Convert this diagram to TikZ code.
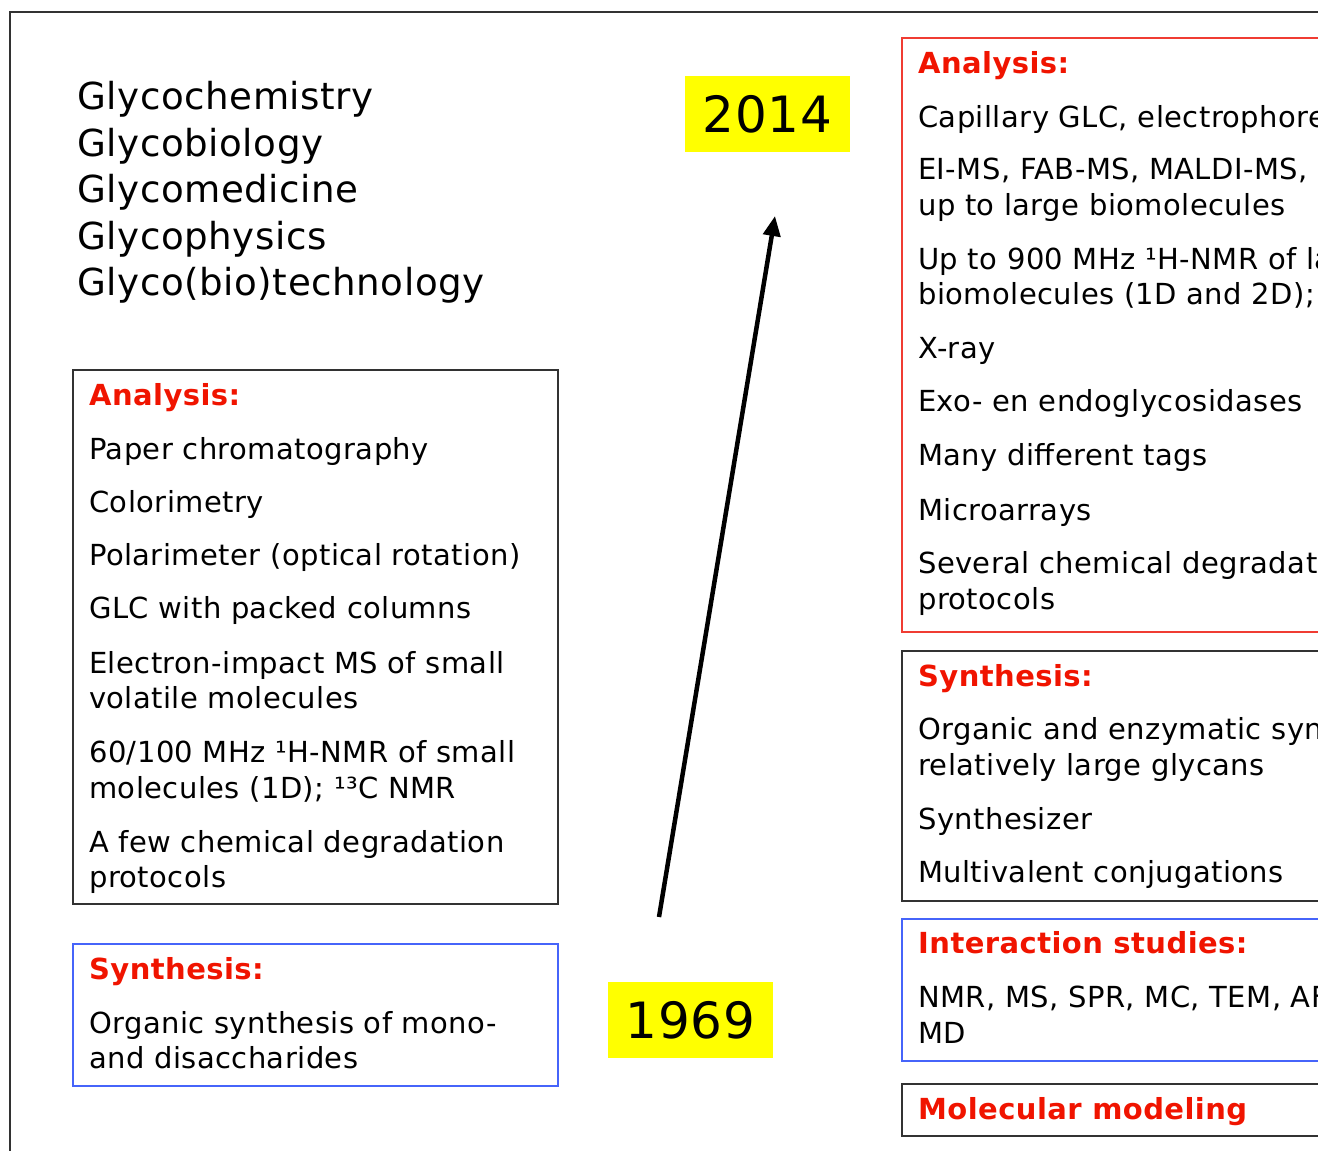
\documentclass[tikz,border=0pt]{standalone}
\usepackage{fontspec}
\setmainfont[LetterSpace=1.5]{DejaVu Sans}
\usetikzlibrary{arrows.meta}
\definecolor{hdred}{RGB}{240,20,0}
\definecolor{frblue}{RGB}{70,100,250}
\definecolor{frred}{RGB}{240,60,50}
\definecolor{frgray}{RGB}{50,50,50}
\definecolor{yrfill}{RGB}{255,255,0}
\begin{document}
\begin{tikzpicture}[x=1pt, y=-1pt, >={Triangle[length=20pt,width=17pt]},
  txt/.style={anchor=base west, inner sep=0pt, font=\fontsize{29}{35}\selectfont},
  hdr/.style={txt, font=\fontsize{29}{35}\selectfont\bfseries, text=hdred},
  big/.style={anchor=base west, inner sep=0pt, font=\fontsize{37.2}{46}\selectfont},
  panel/.style={draw, line width=1.5pt, anchor=north west, inner sep=0pt},
  year/.style={fill=yrfill, minimum width=165pt, minimum height=76pt, inner sep=0pt, font=\fontsize{50}{60}\selectfont}]
    \useasboundingbox (0,0) rectangle (1318,1151);
    \clip (0,0) rectangle (1318,1151);

    % outer frame
    \draw[frgray, line width=2.5pt] (10,12) rectangle (1400,1200);

    % fields
    \node[big] (fchem) at (77,109) {Glycochemistry};
    \node[big] (fbio)  at (77,156) {Glycobiology};
    \node[big] (fmed)  at (77,202) {Glycomedicine};
    \node[big] (fphys) at (77,249) {Glycophysics};
    \node[big] (ftech) at (77,295) {Glyco(bio)technology};

    % years and arrow
    \node[year] (y2014) at (767.5,114) {2014};
    \node[year] (y1969) at (690.5,1020) {1969};
    \coordinate (tail) at (659,917);
    \coordinate (tip) at (775,216);
    \draw[->, line width=4.5pt] (tail) -- (tip);

    % 1969: analysis
    \node[panel, draw=frgray, minimum width=485pt, minimum height=534pt] (oldan) at (72,369) {};
    \node[hdr] (oldanhd) at (89,405) {Analysis:};
    \node[txt] (oldan1) at (89,459) {Paper chromatography};
    \node[txt] (oldan2) at (89,512) {Colorimetry};
    \node[txt] (oldan3) at (89,565) {Polarimeter (optical rotation)};
    \node[txt] (oldan4) at (89,618) {GLC with packed columns};
    \node[txt] (oldan5) at (89,673) {Electron-impact MS of small};
    \node[txt] (oldan5b) at (89,708) {volatile molecules};
    \node[txt] (oldan6) at (89,762) {60/100 MHz ¹H-NMR of small};
    \node[txt] (oldan6b) at (89,798) {molecules (1D); ¹³C NMR};
    \node[txt] (oldan7) at (89,852) {A few chemical degradation};
    \node[txt] (oldan7b) at (89,887) {protocols};

    % 1969: synthesis
    \node[panel, draw=frblue, minimum width=485pt, minimum height=142pt] (oldsy) at (72,943) {};
    \node[hdr] (oldsyhd) at (89,979) {Synthesis:};
    \node[txt] (oldsy1) at (89,1033) {Organic synthesis of mono-};
    \node[txt] (oldsy1b) at (89,1068) {and disaccharides};

    % 2014: analysis
    \node[panel, draw=frred, minimum width=500pt, minimum height=594pt] (newan) at (901,37) {};
    \node[hdr] (newanhd) at (918,73) {Analysis:};
    \node[txt] (newan1) at (918,127) {Capillary GLC, electrophoresis};
    \node[txt] (newan2) at (918,179) {EI-MS, FAB-MS, MALDI-MS,};
    \node[txt] (newan2b) at (918,215) {up to large biomolecules};
    \node[txt] (newan3) at (918,269) {Up to 900 MHz ¹H-NMR of large};
    \node[txt] (newan3b) at (918,304) {biomolecules (1D and 2D);};
    \node[txt] (newan4) at (918,358) {X-ray};
    \node[txt] (newan5) at (918,411) {Exo- en endoglycosidases};
    \node[txt] (newan6) at (918,465) {Many different tags};
    \node[txt] (newan7) at (918,520) {Microarrays};
    \node[txt] (newan8) at (918,573) {Several chemical degradation};
    \node[txt] (newan8b) at (918,609) {protocols};

    % 2014: synthesis
    \node[panel, draw=frgray, minimum width=500pt, minimum height=250pt] (newsy) at (901,650) {};
    \node[hdr] (newsyhd) at (918,686) {Synthesis:};
    \node[txt] (newsy1) at (918,739) {Organic and enzymatic synthesis of};
    \node[txt] (newsy1b) at (918,775) {relatively large glycans};
    \node[txt] (newsy2) at (918,829) {Synthesizer};
    \node[txt] (newsy3) at (918,882) {Multivalent conjugations};

    % 2014: interaction
    \node[panel, draw=frblue, minimum width=500pt, minimum height=142pt] (newin) at (901,918) {};
    \node[hdr] (newinhd) at (918,953) {Interaction studies:};
    \node[txt] (newin1) at (918,1007) {NMR, MS, SPR, MC, TEM, AFM,};
    \node[txt] (newin1b) at (918,1043) {MD};

    % 2014: modeling
    \node[panel, draw=frgray, minimum width=500pt, minimum height=52pt] (newmo) at (901,1083) {};
    \node[hdr] (newmohd) at (918,1119) {Molecular modeling};
\end{tikzpicture}
\end{document}
